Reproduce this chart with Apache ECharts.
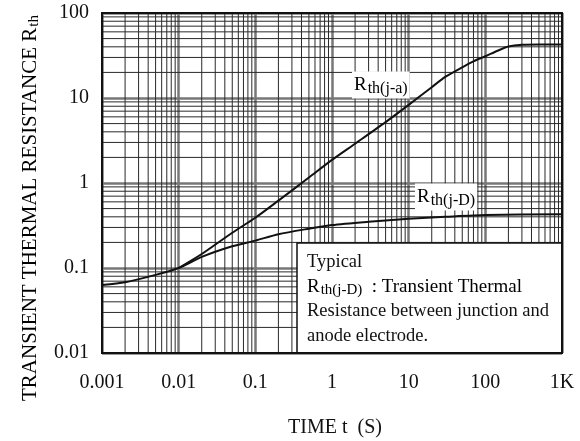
<!DOCTYPE html>
<html>
<head>
<meta charset="utf-8">
<script src="https://cdn.jsdelivr.net/npm/echarts@6/dist/echarts.min.js"></script>
<style>
  html, body { margin: 0; padding: 0; background: #fff; }
  #chart { width: 580px; height: 441px; }
</style>
</head>
<body>
<div id="chart"></div>
<script>
// Rth(j-a) curve: [time s, Rth]
const rthJA = [
    [0.01, 0.1], [0.02, 0.146], [0.05, 0.26], [0.1, 0.39], [0.2, 0.62],
    [0.5, 1.16], [1, 1.87], [2, 2.9], [5, 5.2], [10, 8.3], [20, 13.4],
    [30, 17.7], [50, 23], [70, 27], [100, 31], [150, 36.5], [200, 40.3],
    [300, 42.2], [500, 42.5], [1000, 42.5]
];
// Rth(j-D) curve
const rthJD = [
    [0.001, 0.063], [0.002, 0.068], [0.005, 0.083], [0.01, 0.1],
    [0.02, 0.135], [0.05, 0.18], [0.1, 0.21], [0.2, 0.25], [0.5, 0.29],
    [1, 0.32], [3, 0.35], [10, 0.38], [30, 0.40], [100, 0.42], [1000, 0.43]
];
const xDecades = [0.001, 0.01, 0.1, 1, 10, 100];
const yDecades = [0.01, 0.1, 1, 10];
const minorSteps = [2, 3, 4, 5, 6, 7, 8, 9];

const serif = '"Liberation Serif", "DejaVu Serif", serif';

// minor grid lines (2..9 x each decade)
const gridLines = [];
xDecades.forEach(function(d) {
    minorSteps.forEach(function(m) { gridLines.push([d * m, 1, 0]); });
});
yDecades.forEach(function(d) {
    minorSteps.forEach(function(m) { gridLines.push([1, d * m, 1]); });
});

function subLabel(main, sub, size, subSize, drop) {
    return {
        text: '{r|' + main + '}{s|' + sub + '}',
        rich: {
            r: { fontFamily: serif, fontSize: size, color: '#111', lineHeight: size + 6 },
            s: { fontFamily: serif, fontSize: subSize, color: '#111', padding: [drop, 0, 0, 1], lineHeight: size + 6 }
        }
    };
}

const chart = echarts.init(document.getElementById('chart'));

const labelJA = subLabel('R', 'th(j-a)', 19, 16, 8);
const labelJD = subLabel('R', 'th(j-D)', 19, 16, 8);
const labelNote = subLabel('R', 'th(j-D)', 19, 15, 7);
labelNote.text += '{t|  : Transient Thermal}';
labelNote.rich.t = { fontFamily: serif, fontSize: 19, color: '#111', lineHeight: 25 };
const labelY = subLabel('TRANSIENT THERMAL RESISTANCE R', 'th', 21, 15, 9);

const option = {
    animation: false,
    grid: { left: 102, right: 18, top: 13, bottom: 88 },
    xAxis: {
        type: 'log',
        logBase: 10,
        min: 0.001,
        max: 1000,
        axisLine: { show: true, onZero: false, lineStyle: { color: '#111', width: 2 } },
        axisTick: { show: false },
        axisLabel: {
            margin: 20,
            fontFamily: serif,
            fontSize: 20,
            color: '#111',
            formatter: function(v) {
                if (v >= 1000) return '1K';
                return String(+v.toPrecision(3));
            }
        },
        splitLine: { show: true, lineStyle: { color: '#777', width: 2.5 } }
    },
    yAxis: {
        type: 'log',
        logBase: 10,
        min: 0.01,
        max: 100,
        axisLine: { show: true, onZero: false, lineStyle: { color: '#111', width: 2 } },
        axisTick: { show: false },
        axisLabel: {
            margin: 13,
            fontFamily: serif,
            fontSize: 20,
            color: '#111',
            formatter: function(v) { return String(+v.toPrecision(3)); }
        },
        splitLine: { show: true, lineStyle: { color: '#777', width: 2.5 } }
    },
    graphic: [
        // frame top/right
        { type: 'rect', shape: { x: 102, y: 13, width: 460, height: 340 },
          style: { fill: null, stroke: '#111', lineWidth: 2 }, z: 50 },
        // note box
        { type: 'rect', shape: { x: 297, y: 243, width: 265, height: 110 },
          style: { fill: '#fff', stroke: '#111', lineWidth: 1.5 }, z: 40 },
        { type: 'text', x: 307, y: 262, z: 60,
          style: { text: 'Typical', font: '18.5px ' + serif, fill: '#111', textVerticalAlign: 'middle' } },
        { type: 'text', x: 307, y: 287, z: 60,
          style: Object.assign({ textVerticalAlign: 'middle' }, labelNote) },
        { type: 'text', x: 307, y: 311, z: 60,
          style: { text: 'Resistance between junction and', font: '18.5px ' + serif, fill: '#111', textVerticalAlign: 'middle' } },
        { type: 'text', x: 307, y: 336, z: 60,
          style: { text: 'anode electrode.', font: '18.5px ' + serif, fill: '#111', textVerticalAlign: 'middle' } },
        // curve labels
        { type: 'text', x: 352, y: 85, z: 60,
          style: Object.assign({ textVerticalAlign: 'middle', backgroundColor: '#fff', padding: [1, 2, 1, 2] }, labelJA) },
        { type: 'text', x: 415, y: 197, z: 60,
          style: Object.assign({ textVerticalAlign: 'middle', backgroundColor: '#fff', padding: [1, 2, 1, 2] }, labelJD) },
        // axis titles
        { type: 'text', x: 335, y: 428, z: 60,
          style: { text: 'TIME t  (S)', font: '20px ' + serif, fill: '#111', textAlign: 'center', textVerticalAlign: 'middle' } },
        { type: 'text', x: 30, y: 208, rotation: Math.PI / 2, z: 60,
          style: Object.assign({ textAlign: 'center', textVerticalAlign: 'middle' }, labelY) }
    ],
    series: [
        {
            type: 'custom',
            silent: true,
            data: gridLines,
            encode: { x: 0, y: 1 },
            z: 1,
            renderItem: function(params, api) {
                const cs = params.coordSys;
                if (api.value(2) === 0) {
                    const x = api.coord([api.value(0), 1])[0];
                    return { type: 'line', shape: { x1: x, y1: cs.y, x2: x, y2: cs.y + cs.height },
                             style: { stroke: '#2a2a2a', lineWidth: 1 } };
                }
                const y = api.coord([1, api.value(1)])[1];
                return { type: 'line', shape: { x1: cs.x, y1: y, x2: cs.x + cs.width, y2: y },
                         style: { stroke: '#2a2a2a', lineWidth: 1 } };
            }
        },
        {
            name: 'Rth(j-a)',
            type: 'line',
            data: rthJA,
            smooth: 0.25,
            showSymbol: false,
            z: 10,
            lineStyle: { color: '#111', width: 2 }
        },
        {
            name: 'Rth(j-D)',
            type: 'line',
            data: rthJD,
            smooth: 0.25,
            showSymbol: false,
            z: 10,
            lineStyle: { color: '#111', width: 2 }
        }
    ]
};

chart.setOption(option);
</script>
</body>
</html>
